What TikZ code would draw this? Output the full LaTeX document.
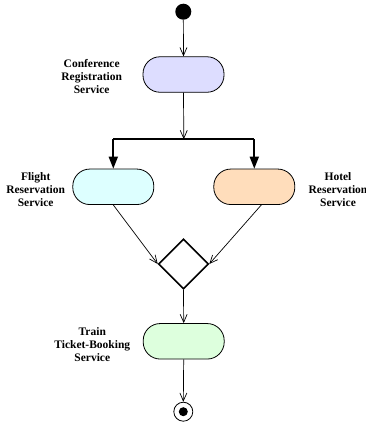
\documentclass[tikz,border=0pt]{standalone}
\usepackage{fontspec}
\setmainfont{Liberation Serif}
\usetikzlibrary{arrows.meta,shapes.geometric}
\definecolor{cLav}{RGB}{221,221,255}
\definecolor{cCyan}{RGB}{221,255,255}
\definecolor{cPeach}{RGB}{255,221,187}
\definecolor{cGreen}{RGB}{221,255,221}
\tikzset{
  act/.style={draw=black, line width=0.8pt, rounded corners=17pt, minimum width=81pt, minimum height=35.5pt, inner sep=0pt},
  lbl/.style={align=center, font=\fontsize{11.5}{13}\selectfont\bfseries, inner sep=0pt},
  flow/.style={line width=0.7pt, -{Straight Barb[length=8pt,width=7pt,line width=0.7pt]}},
  forkline/.style={line width=1.8pt, -{Triangle[length=12pt,width=9pt]}},
}
\begin{document}
\begin{tikzpicture}[x=1pt,y=-1pt]
\useasboundingbox (0,0) rectangle (365,424);
\clip (0,0) rectangle (365,424);
% nodes
\node[circle, fill=black, minimum size=16pt, inner sep=0pt] (start) at (183.3,11.7) {};
\node[act, fill=cLav] (conf) at (183.5,74.5) {};
\node[lbl] (conflbl) at (91.7,77) {Conference\\Registration\\Service};
\node[draw=none, minimum width=141pt, minimum height=0pt, inner sep=0pt] (bar) at (183.8,139.2) {};
\coordinate (barL) at (113.3,139.2);
\coordinate (barR) at (254.3,139.2);
\node[act, fill=cCyan] (flight) at (113.3,186.8) {};
\node[act, fill=cPeach] (hotel) at (254.3,186.8) {};
\node[lbl] (flightlbl) at (35.7,190) {Flight\\Reservation\\Service};
\node[lbl] (hotellbl) at (338,190) {Hotel\\Reservation\\Service};
\node[diamond, draw=black, line width=1.6pt, minimum width=50pt, minimum height=50pt, inner sep=0pt] (dec) at (183.5,264) {};
\node[act, fill=cGreen] (train) at (183.7,341.3) {};
\node[lbl] (trainlbl) at (92.3,345) {Train\\Ticket-Booking\\Service};
\node[circle, draw=black, line width=0.8pt, minimum size=19pt, inner sep=0pt] (end) at (183.3,411.7) {};
\node[circle, fill=black, minimum size=9pt, inner sep=0pt] (endin) at (183.3,411.7) {};
% connectors
\draw[flow] (start) -- (conf.north);
\draw[flow] (conf.south) -- (bar.center);
\draw[line width=1.8pt] (barL) -- (barR);
\draw[forkline] (barL) -- (flight.north);
\draw[forkline] (barR) -- (hotel.north);
\draw[flow] (flight.south) -- (dec.west);
\draw[flow] ([xshift=7pt]hotel.south) -- (dec.east);
\draw[flow] (dec.south) -- (train.north);
\draw[flow] (train.south) -- (end.north);
\end{tikzpicture}
\end{document}
